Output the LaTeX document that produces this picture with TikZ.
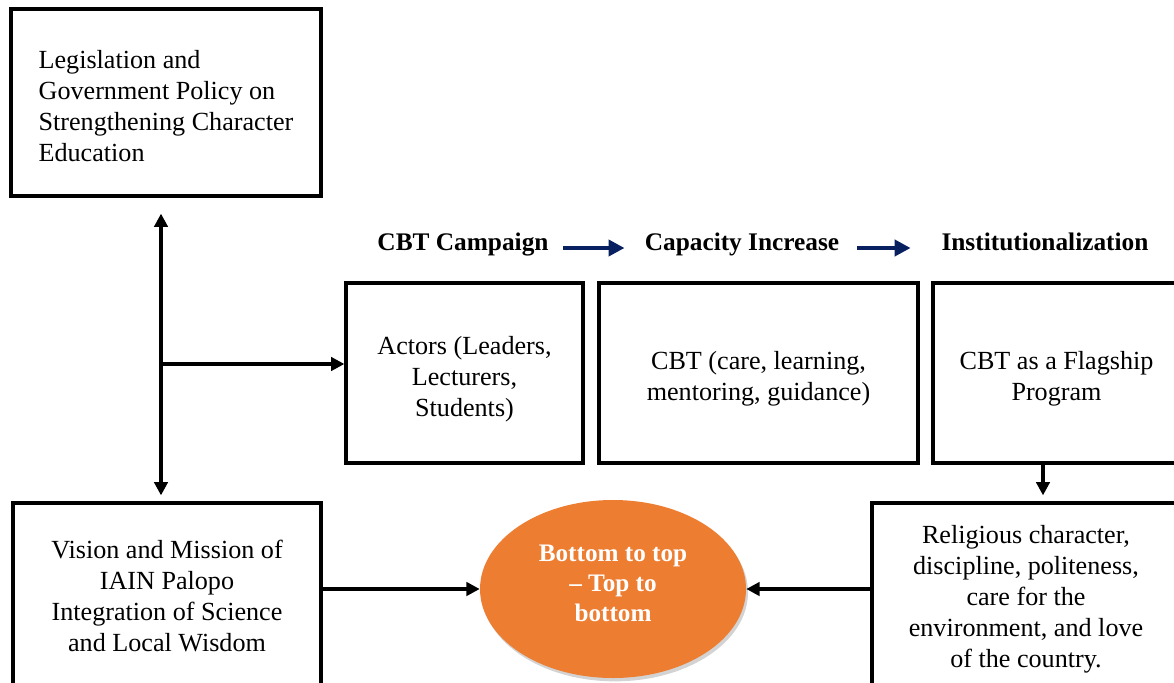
\documentclass[tikz,border=0pt]{standalone}
\usepackage{fontspec}
\setmainfont{Liberation Serif}
\usetikzlibrary{shapes.geometric, arrows.meta, positioning, calc, shadows}

\definecolor{flowblue}{RGB}{8,32,96}
\definecolor{ovalorange}{RGB}{237,125,49}

% taller first line, pushes a box text down a little
\newcommand{\dropby}[1]{\rule{0pt}{\dimexpr0.72em+#1\relax}}

\tikzset{
  plainbox/.style={draw, line width=2.4pt, align=center, inner sep=2pt,
    font=\fontsize{19.6}{23.25}\selectfont},
  header/.style={inner sep=0pt, anchor=base, font=\fontsize{19}{22}\selectfont\bfseries},
  conn/.style={line width=2.5pt, -{Triangle[length=10pt,width=10pt]}},
  dconn/.style={line width=2.5pt, {Triangle[length=10pt,width=10pt]}-{Triangle[length=10pt,width=10pt]}},
  blueconn/.style={line width=3pt, flowblue, -{Triangle[length=12pt,width=12pt]}}
}

\begin{document}
\begin{tikzpicture}[x=0.75pt, y=-0.75pt]
\useasboundingbox (0,0) rectangle (1174,682);
\clip (0,0) rectangle (1174,682);

% left column
\node[plainbox, align=left, minimum width=232.5pt, minimum height=140.25pt] (legis) at (166,102.5)
  {\dropby{4.5pt}Legislation and\\Government Policy on\\Strengthening Character\\Education};
\node[plainbox, minimum width=231pt, minimum height=139.5pt] (vision) at (167,596)
  {Vision and Mission of\\IAIN Palopo\\Integration of Science\\and Local Wisdom};

% stages
\node[header] (camp) at (463,250) {CBT Campaign};
\node[header] (cap) at (742,250) {Capacity Increase};
\node[header] (inst) at (1045,250) {Institutionalization};

\node[plainbox, minimum width=177.75pt, minimum height=135pt] (actors) at (464.5,373)
  {\dropby{9pt}Actors (Leaders,\\Lecturers,\\Students)};
\node[plainbox, minimum width=239.25pt, minimum height=135pt] (cbt) at (758.5,373)
  {\dropby{7.5pt}CBT (care, learning,\\mentoring, guidance)};
\node[plainbox, minimum width=185.25pt, minimum height=135pt] (flag) at (1056.5,373)
  {\dropby{7.5pt}CBT as a Flagship\\Program};
\node[plainbox, minimum width=231pt, minimum height=139.5pt] (relig) at (1026,596)
  {\dropby{4.5pt}Religious character,\\discipline, politeness,\\care for the\\environment, and love\\of the country.};

% centre oval
\node[ellipse, fill=ovalorange, inner sep=0pt,
  minimum width=199.5pt, minimum height=133.5pt,
  drop shadow={shadow xshift=1.5pt, shadow yshift=-2.5pt, opacity=0.35}] (oval) at (613,589) {};
\node[text=white, align=center, font=\fontsize{18.9}{22.5}\selectfont\bfseries] (ovaltext) at (613,583)
  {Bottom to top\\-- Top to\\bottom};

% connectors
\coordinate (mid) at (161,364);
\coordinate (fx) at (1043,0);
\draw[dconn, shorten <=12pt, shorten >=4.5pt] (mid |- legis.south) -- (mid |- vision.north);
\draw[conn] (mid) -- (mid -| actors.west);
\draw[conn, shorten >=4.5pt] (flag.south -| fx) -- (relig.north -| fx);
\draw[conn] (vision.east |- oval.west) -- (oval.west);
\draw[conn] (relig.west |- oval.east) -- (oval.east);

\draw[blueconn, shorten <=10.5pt, shorten >=15pt] ([yshift=1.5pt]camp.base east) -- ([yshift=1.5pt]cap.base west);
\draw[blueconn, shorten <=13.5pt, shorten >=23pt] ([yshift=1.5pt]cap.base east) -- ([yshift=1.5pt]inst.base west);
\end{tikzpicture}
\end{document}
